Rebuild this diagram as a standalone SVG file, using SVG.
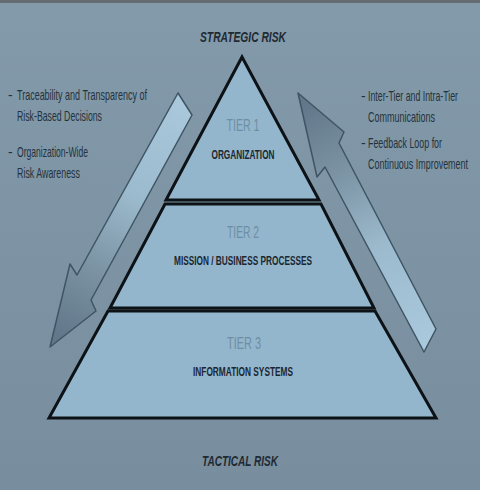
<svg xmlns="http://www.w3.org/2000/svg" width="480" height="490" viewBox="0 0 480 490">
  <defs>
    <linearGradient id="bg" x1="0" y1="0" x2="0" y2="1">
      <stop offset="0" stop-color="#839aaa"/>
      <stop offset="1" stop-color="#788e9e"/>
    </linearGradient>
    <linearGradient id="gLeft" gradientUnits="userSpaceOnUse" x1="185" y1="104" x2="58" y2="335">
      <stop offset="0" stop-color="#aac8dc"/>
      <stop offset="0.4" stop-color="#9cbacd"/>
      <stop offset="0.72" stop-color="#7a92a2"/>
      <stop offset="1" stop-color="#62788a"/>
    </linearGradient>
    <linearGradient id="gRight" gradientUnits="userSpaceOnUse" x1="430" y1="340" x2="303" y2="105">
      <stop offset="0" stop-color="#aac8dc"/>
      <stop offset="0.4" stop-color="#9cbacd"/>
      <stop offset="0.72" stop-color="#7a92a2"/>
      <stop offset="1" stop-color="#62788a"/>
    </linearGradient>
    <style>
      .tier { fill: #93b6cd; stroke: #0d1216; stroke-width: 3; stroke-linejoin: miter; }
      .arrow { stroke: #3f5564; stroke-width: 1.5; stroke-linejoin: round; }
      .risk { font-family: "Liberation Sans", Arial, sans-serif; font-size: 15px; font-weight: bold; font-style: italic; fill: #1f2a33; text-anchor: middle; }
      .tiernum { font-family: "Liberation Sans", Arial, sans-serif; font-size: 17px; fill: #6f8ea3; text-anchor: middle; }
      .tiername { font-family: "Liberation Sans", Arial, sans-serif; font-size: 13px; font-weight: bold; fill: #1b2630; text-anchor: middle; }
      .side { font-family: "Liberation Sans", Arial, sans-serif; font-size: 14px; fill: #25323c; }
    </style>
  </defs>

  <rect x="0" y="0" width="480" height="490" fill="url(#bg)"/>
  <rect x="0" y="0" width="480" height="3" fill="#646c72"/>

  <g id="connectors">
    <polygon id="arrow-down" class="arrow" fill="url(#gLeft)" points="178,93 192,115 91,300 96,311 50,347 70,264 77,275"/>
    <polygon id="arrow-up" class="arrow" fill="url(#gRight)" points="436,329 424,352 325,167 317,177 298,93 344,132 339,143"/>
  </g>

  <g id="tier1">
    <polygon class="tier" points="242,57 319,200 166,200"/>
    <text class="tiernum" x="243" y="131" textLength="33" lengthAdjust="spacingAndGlyphs">TIER 1</text>
    <text class="tiername" x="243" y="159" textLength="63" lengthAdjust="spacingAndGlyphs">ORGANIZATION</text>
  </g>

  <g id="tier2">
    <polygon class="tier" points="165,204 321,204 374,308 110,308"/>
    <text class="tiernum" x="243" y="238" textLength="32" lengthAdjust="spacingAndGlyphs">TIER 2</text>
    <text class="tiername" x="243" y="265" textLength="138" lengthAdjust="spacingAndGlyphs">MISSION / BUSINESS PROCESSES</text>
  </g>

  <g id="tier3">
    <polygon class="tier" points="108,311 375,311 436,418 49,418"/>
    <text class="tiernum" x="244" y="349" textLength="34" lengthAdjust="spacingAndGlyphs">TIER 3</text>
    <text class="tiername" x="243" y="376" textLength="100" lengthAdjust="spacingAndGlyphs">INFORMATION SYSTEMS</text>
  </g>

  <g id="strategic-risk">
    <text class="risk" x="243" y="42" textLength="86" lengthAdjust="spacingAndGlyphs">STRATEGIC RISK</text>
  </g>
  <g id="tactical-risk">
    <text class="risk" x="240" y="466" textLength="76" lengthAdjust="spacingAndGlyphs">TACTICAL RISK</text>
  </g>

  <g id="left-notes">
    <text class="side" x="8" y="100">-</text>
    <text class="side" transform="translate(17,100) scale(0.7,1)" x="0" y="0" textLength="185.7" lengthAdjust="spacingAndGlyphs">Traceability and Transparency of</text>
    <text class="side" transform="translate(17,121) scale(0.7,1)" x="0" y="0" textLength="121.4" lengthAdjust="spacingAndGlyphs">Risk-Based Decisions</text>
    <text class="side" x="8" y="157">-</text>
    <text class="side" transform="translate(17,157) scale(0.7,1)" x="0" y="0" textLength="101.4" lengthAdjust="spacingAndGlyphs">Organization-Wide</text>
    <text class="side" transform="translate(17,178) scale(0.7,1)" x="0" y="0" textLength="90" lengthAdjust="spacingAndGlyphs">Risk Awareness</text>
  </g>

  <g id="right-notes">
    <text class="side" x="361" y="101">-</text>
    <text class="side" transform="translate(368,101) scale(0.7,1)" x="0" y="0" textLength="128.6" lengthAdjust="spacingAndGlyphs">Inter-Tier and Intra-Tier</text>
    <text class="side" transform="translate(368,122) scale(0.7,1)" x="0" y="0" textLength="95.7" lengthAdjust="spacingAndGlyphs">Communications</text>
    <text class="side" x="361" y="148">-</text>
    <text class="side" transform="translate(368,148) scale(0.7,1)" x="0" y="0" textLength="105.7" lengthAdjust="spacingAndGlyphs">Feedback Loop for</text>
    <text class="side" transform="translate(368,169) scale(0.7,1)" x="0" y="0" textLength="142.9" lengthAdjust="spacingAndGlyphs">Continuous Improvement</text>
  </g>
</svg>
